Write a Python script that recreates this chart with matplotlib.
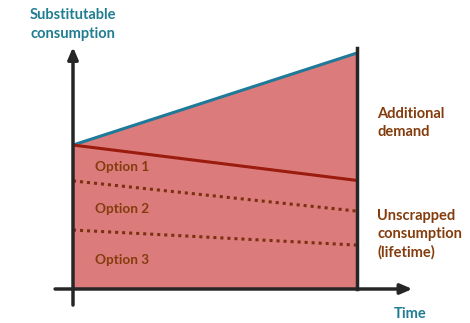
import numpy as np
import matplotlib.pyplot as plt

## DATA

t = [0.0, 1.0]                      # time, start and end
total_demand = [61.0, 100.0]        # top of the shaded area
unscrapped = [61.0, 46.0]           # lifetime consumption (solid red line)
option_12 = [45.8, 33.0]            # boundary Option 1 / Option 2
option_23 = [25.0, 18.6]            # boundary Option 2 / Option 3
option_labels = ['Option 1', 'Option 2', 'Option 3']
option_label_y = [51.7, 33.9, 12.3]

## COLOURS

fill_col = '#DB7B7B'
blue = '#1F7A99'
red = '#9B1B0E'
brown = '#7B3010'
text_brown = '#843C0C'
teal = '#217D91'
axis_col = '#262626'

plt.rcParams['font.family'] = ['Lato', 'DejaVu Sans']

fig = plt.figure(figsize=(4.7, 3.23), dpi=100)
ax = fig.add_axes([73 / 470, 34 / 323, 284 / 470, 236 / 323])
ax.set_xlim(0, 1)
ax.set_ylim(0, 100)
ax.axis('off')

# shaded area under total demand
ax.fill_between(t, 0, total_demand, color=fill_col, lw=0)

# lines
ax.plot(t, total_demand, color=blue, lw=2.2, solid_capstyle='butt', clip_on=False)
ax.plot(t, unscrapped, color=red, lw=2.2, solid_capstyle='butt', clip_on=False)
ax.plot(t, option_12, color=brown, lw=2.2, ls=(0, (1, 1.3)), clip_on=False)
ax.plot(t, option_23, color=brown, lw=2.2, ls=(0, (1, 1.3)), clip_on=False)

# right-hand boundary
ax.plot([1, 1], [0, 102], color=axis_col, lw=2.5, clip_on=False)

# axes with arrows
arrow = dict(arrowstyle='-|>,head_length=0.7,head_width=0.3', color=axis_col, lw=2.5,
             shrinkA=0, shrinkB=0)
ax.annotate('', xy=(0, 102.5), xytext=(0, -6.8), arrowprops=arrow, annotation_clip=False)
ax.annotate('', xy=(1.195, 0), xytext=(-0.063, 0), arrowprops=arrow, annotation_clip=False)

# labels
for lab, y in zip(option_labels, option_label_y):
    ax.text(0.078, y, lab, color=text_brown, fontsize=9.8, fontweight='bold', va='center')

ax.text(1.071, 70.3, 'Additional\ndemand', color=text_brown, fontsize=10.5,
        fontweight='bold', va='center', linespacing=1.35, clip_on=False)
ax.text(1.071, 23.3, 'Unscrapped\nconsumption\n(lifetime)', color=text_brown, fontsize=10.5,
        fontweight='bold', va='center', linespacing=1.35, clip_on=False)
ax.text(0.0, 112.0, 'Substitutable\nconsumption', color=teal, fontsize=10.5,
        fontweight='bold', ha='center', va='center', linespacing=1.4, clip_on=False)
ax.text(1.187, -10.5, 'Time', color=teal, fontsize=10.5, fontweight='bold',
        ha='center', va='center', clip_on=False)

fig.savefig('out.png', dpi=100)
